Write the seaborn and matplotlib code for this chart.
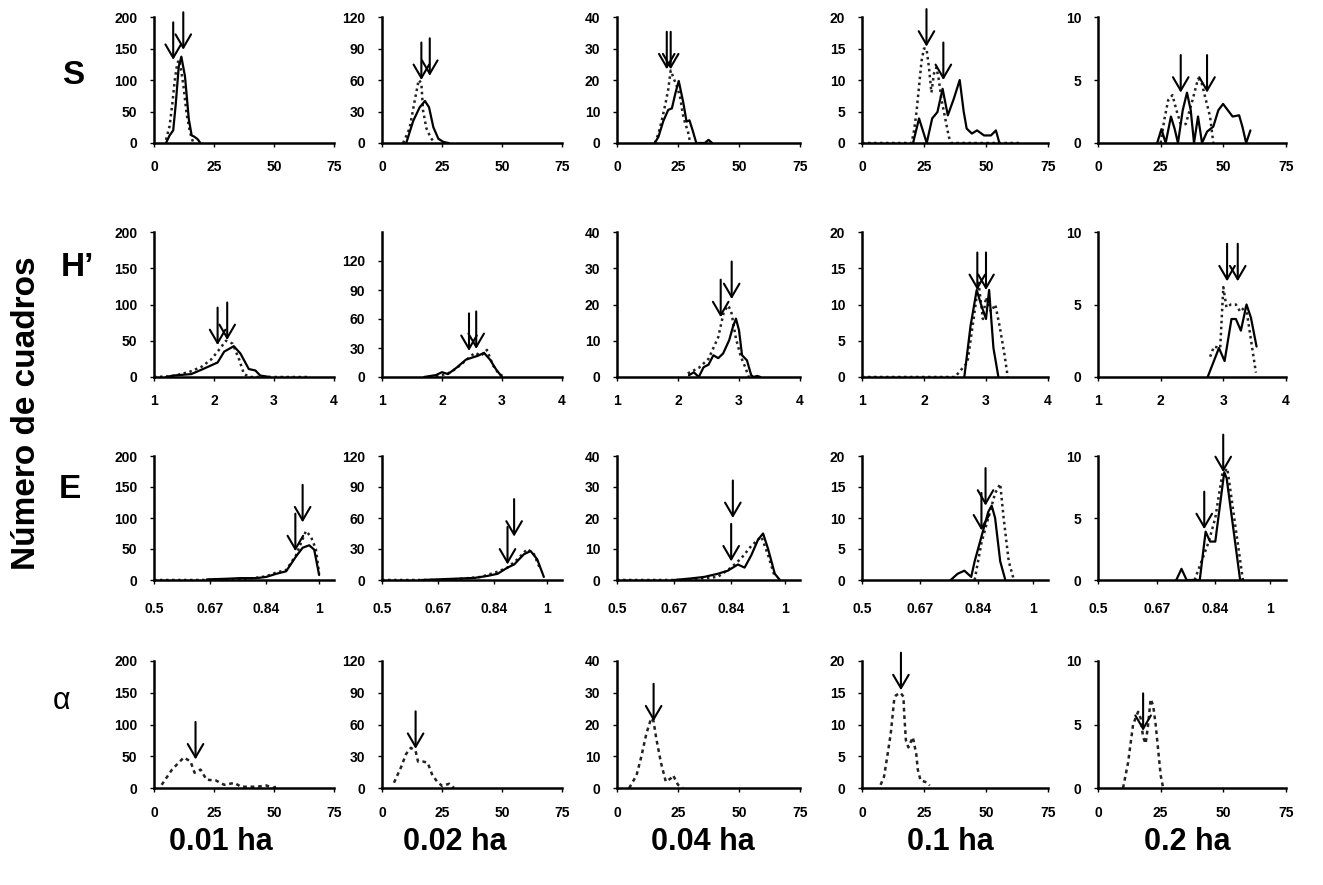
import numpy as np
import pandas as pd
import matplotlib
matplotlib.use("Agg")
import matplotlib.pyplot as plt
import seaborn as sns

# ---------------- DATA ----------------
ROW_NAMES = ["S", "H\u2019", "E", "\u03b1"]
COL_NAMES = ["0.01 ha", "0.02 ha", "0.04 ha", "0.1 ha", "0.2 ha"]
Y_LABEL = "Número de cuadros"

YMAX = [200, 120, 40, 20, 10]
YSTEP = [50, 30, 10, 5, 5]
XTICKS_ROW = [[0, 25, 50, 75], [1, 2, 3, 4], [0.5, 0.67, 0.84, 1], [0, 25, 50, 75]]
XTICKLABELS_ROW = [["0", "25", "50", "75"], ["1", "2", "3", "4"],
                   ["0.5", "0.67", "0.84", "1"], ["0", "25", "50", "75"]]
XLIM_ROW = [(0, 75), (1, 4), (0.5, 1.045), (0, 75)]

# Row S
S1_SX = [5, 6.5, 8, 9, 10.3, 11.4, 12.9, 14.5, 15.7, 16.8, 18.2, 19.3]
S1_SY = [0, 12, 20, 59, 121, 137, 106, 38, 12, 10, 6, 0]
S1_DX = [5, 6.5, 7.6, 8.6, 9.7, 10.6, 12.2, 13.6, 15, 16.3]
S1_DY = [5, 27, 61, 98, 127, 132, 93, 46, 17, 1]
S1_AX = [8, 12.2]
S1_AT = [132, 148]

S2_SX = [10.1, 13, 15.7, 17.9, 19.6, 21.4, 23.5, 25.6, 27.7]
S2_SY = [0, 21, 34, 40, 34, 15, 4, 1, 0]
S2_DX = [8.8, 11.5, 13.6, 15.3, 16.4, 17.1, 18.5, 20.3, 22]
S2_DY = [0, 14, 40, 60, 57, 31, 14, 5, 0]
S2_AX = [16.4, 19.9]
S2_AT = [60, 64]

S3_SX = [15.5, 17, 19, 21, 22.5, 24, 25.3, 27.2, 28.5, 29.7, 31, 32.5, 34, 36, 37.5, 39]
S3_SY = [0, 2, 7, 10.5, 11, 16, 19.7, 12.7, 6.8, 7.2, 4, 0, 0, 0, 1, 0]
S3_DX = [15.5, 17, 18.3, 20, 21, 22, 23, 24, 25, 26, 27, 28, 29, 30]
S3_DY = [0, 3, 7, 13, 17, 23, 21, 19, 17, 14, 9, 6, 4, 0]
S3_AX = [20.4, 22]
S3_AT = [23.4, 23.4]

S4_SX = [20.6, 23, 26.1, 28.3, 30.4, 32.5, 34.6, 37, 39.4, 41, 42.2, 44.3, 46.4, 49.2, 52, 54, 55.4]
S4_SY = [0, 3.9, 0, 3.9, 4.9, 8.6, 4.4, 7, 10, 5, 2.3, 1.5, 2, 1.2, 1.2, 2, 0]
S4_DX = [0, 4, 8, 12, 16, 20, 21, 22, 23, 24, 25, 26, 27, 28, 29, 30, 31, 32, 33, 34, 35, 36,
         40, 45, 50, 55, 60, 64]
S4_DY = [0, 0, 0, 0, 0, 0, 2, 5, 9, 13, 15, 15, 12, 8, 11, 12, 10, 7, 5, 3, 1, 0,
         0, 0, 0, 0, 0, 0]
S4_AX = [26, 32.8]
S4_AT = [15.3, 10]

S5_SX = [23.6, 25.3, 27, 29.1, 30.6, 31.9, 33.8, 35.5, 37, 38.3, 39.9, 41.5, 43.5, 46, 48,
         49.9, 51.8, 53.7, 56.3, 57.6, 59.1, 60.8]
S5_SY = [0, 1.1, 0, 2.1, 1.1, 0, 2.6, 4.0, 2.6, 0, 2.1, 0, 0.9, 1.3, 2.6, 3.1, 2.6, 2.1,
         2.2, 1.3, 0, 1.0]
S5_DX = [25, 26.5, 28, 29.7, 31.3, 33, 35, 37.7, 39.9, 41.2, 42.8, 44.7, 46]
S5_DY = [0, 1.9, 3.4, 3.8, 2.6, 1.5, 1.5, 3.4, 5.1, 4.9, 3.6, 2.1, 0]
S5_AX = [33, 43.5]
S5_AT = [4.0, 4.0]

# Row H'
H1_SX = [1.2, 1.32, 1.62, 1.79, 2.06, 2.17, 2.33, 2.44, 2.58, 2.69, 2.77, 2.93]
H1_SY = [0, 2, 4, 10, 20, 35, 42.5, 32.5, 11, 9, 2, 0]
H1_DX = [1.0, 1.3, 1.59, 1.79, 1.95, 2.06, 2.2, 2.31, 2.42, 2.5, 2.6, 2.8, 3.0, 3.2, 3.4, 3.58]
H1_DY = [0, 1, 7, 14, 24, 35, 50, 46, 24, 4, 0, 0, 0, 0, 0, 0]
H1_AX = [2.06, 2.22]
H1_AT = [44, 51]

H2_SX = [1.7, 1.9, 2.0, 2.1, 2.25, 2.4, 2.5, 2.6, 2.7, 2.8, 2.9, 3.0]
H2_SY = [0, 2, 5, 3, 10, 18, 20, 22, 25, 18, 8, 0]
H2_DX = [1.8, 2.0, 2.15, 2.3, 2.45, 2.55, 2.65, 2.75, 2.85, 2.95, 3.05]
H2_DY = [0, 2, 5, 12, 20, 25, 22, 28, 12, 3, 0]
H2_AX = [2.45, 2.57]
H2_AT = [27, 29]

H3_SX = [2.18, 2.26, 2.34, 2.42, 2.5, 2.58, 2.66, 2.74, 2.84, 2.9, 2.95, 3.0, 3.05, 3.13,
         3.2, 3.24, 3.3, 3.35]
H3_SY = [0.5, 1.3, 0, 2.7, 3.4, 6, 5.2, 6.5, 10.2, 13.8, 16.1, 12.9, 6, 4.6, 0.5, 0, 0.3, 0]
H3_DX = [2.16, 2.34, 2.5, 2.66, 2.75, 2.82, 2.87, 2.95, 3.03, 3.1, 3.16]
H3_DY = [1, 2.5, 5, 11, 17.9, 19.7, 18.3, 10.6, 5.6, 2.8, 0]
H3_AX = [2.7, 2.88]
H3_AT = [16.5, 21.5]

H4_SX = [2.65, 2.75, 2.85, 2.92, 3.0, 3.05, 3.12, 3.2]
H4_SY = [0, 7, 12, 10, 8, 12, 4, 0]
H4_DX = [1.0, 1.5, 2.0, 2.5, 2.7, 2.8, 2.88, 2.95, 3.0, 3.08, 3.15, 3.22, 3.3, 3.35]
H4_DY = [0, 0, 0, 0, 2, 8, 13, 8, 11, 9, 10, 7, 3, 0]
H4_AX = [2.86, 3.0]
H4_AT = [12, 12]

H5_SX = [2.75, 2.93, 3.02, 3.13, 3.2, 3.28, 3.37, 3.44, 3.53]
H5_SY = [0, 2.0, 1.1, 4.0, 4.0, 3.2, 5.0, 4.1, 2.1]
H5_DX = [2.79, 2.85, 2.95, 3.0, 3.05, 3.12, 3.2, 3.27, 3.36, 3.45, 3.52]
H5_DY = [1.4, 2.1, 2.0, 6.2, 4.8, 5.0, 5.0, 4.5, 4.9, 2.3, 0.3]
H5_AX = [3.06, 3.23]
H5_AT = [6.6, 6.6]

# Row E
E1_SX = [0.66, 0.72, 0.76, 0.81, 0.84, 0.87, 0.9, 0.93, 0.95, 0.97, 0.985, 1.0]
E1_SY = [1, 2, 3, 3, 5, 10, 14, 38, 52, 56, 49, 8]
E1_DX = [0.5, 0.55, 0.6, 0.65, 0.7, 0.75, 0.8, 0.84, 0.87, 0.9, 0.93, 0.96, 0.975, 0.99, 1.0]
E1_DY = [0, 0, 0, 0, 0, 1, 3, 6, 12, 16, 40, 79, 70, 50, 10]
E1_AX = [0.928, 0.95]
E1_AT = [46.5, 93]

E2_SX = [0.62, 0.7, 0.78, 0.82, 0.85, 0.88, 0.9, 0.93, 0.95, 0.97, 0.99]
E2_SY = [0, 1, 2, 4, 6, 12, 15, 25, 28, 20, 3]
E2_DX = [0.5, 0.6, 0.7, 0.8, 0.85, 0.88, 0.91, 0.94, 0.96, 0.98]
E2_DY = [0, 0, 0, 3, 8, 12, 20, 30, 25, 10]
E2_AX = [0.88, 0.9]
E2_AT = [15, 42]

E3_SX = [0.67, 0.72, 0.76, 0.8, 0.83, 0.86, 0.88, 0.9, 0.92, 0.935, 0.95, 0.97, 0.985]
E3_SY = [0, 0.5, 1, 2, 3, 5, 4, 8, 13, 15, 10, 2, 0]
E3_DX = [0.5, 0.6, 0.7, 0.8, 0.84, 0.87, 0.9, 0.93, 0.95, 0.97]
E3_DY = [0, 0, 0, 1, 4, 7, 11, 14, 8, 1]
E3_AX = [0.84, 0.845]
E3_AT = [6, 20]

E4_SX = [0.76, 0.78, 0.8, 0.82, 0.83, 0.845, 0.86, 0.87, 0.88, 0.89, 0.905, 0.92]
E4_SY = [0, 1, 1.5, 0.5, 3, 6, 9, 11, 12, 10, 3, 0]
E4_DX = [0.83, 0.85, 0.87, 0.89, 0.905, 0.915, 0.93, 0.945]
E4_DY = [0, 6, 10, 14, 15.5, 10, 3, 0]
E4_AX = [0.85, 0.862]
E4_AT = [8, 12]

E5_SX = [0.727, 0.742, 0.757, 0.795, 0.812, 0.825, 0.84, 0.866, 0.873, 0.912]
E5_SY = [0, 0.9, 0, 0, 3.9, 3.1, 3.1, 8.7, 8.2, 0]
E5_DX = [0.78, 0.8, 0.82, 0.84, 0.86, 0.875, 0.89, 0.905, 0.92]
E5_DY = [0, 1.5, 3, 5, 8.5, 9, 6, 3, 0]
E5_AX = [0.808, 0.863]
E5_AT = [4.1, 8.7]

# Row alpha (only one series)
A1_DX = [3.2, 7.5, 12.4, 15.2, 16.9, 19.4, 21.9, 25.7, 29.3, 33.5, 36.3, 39.8, 43, 46.8, 49.6, 51.8]
A1_DY = [5, 29, 48, 42, 24, 29, 13, 12, 5, 8, 2, 2, 2, 4, 0, 4]
A1_AX = [17.3]
A1_AT = [45]

A2_DX = [5, 8, 10, 12, 14, 15, 17, 19, 21, 23, 25, 28, 30]
A2_DY = [5, 20, 32, 38, 35, 25, 25, 24, 12, 6, 2, 4, 0]
A2_AX = [14]
A2_AT = [37]

A3_DX = [5, 8, 10, 12, 14, 15, 16, 18, 20, 22, 23, 25, 27]
A3_DY = [0, 4, 10, 17, 22, 21, 16, 8, 2, 3, 4, 1, 0]
A3_AX = [15]
A3_AT = [21]

A4_DX = [7.5, 8.9, 10.2, 11.6, 12.3, 13, 13.7, 15.5, 16.7, 17, 17.7, 18.7, 20.5, 21.9, 22.5,
         23.6, 26, 27.3]
A4_DY = [0.5, 1.8, 5, 8.6, 11.3, 14, 14.6, 15, 14.4, 11.8, 7.5, 6.4, 8, 5.3, 2.9, 1.2, 0.9, 0.4]
A4_AX = [15.7]
A4_AT = [15.4]

A5_DX = [10, 12, 14, 16, 17, 18, 19, 20, 21, 22, 23, 24, 25, 26]
A5_DY = [0, 2, 5, 6, 5.5, 4, 3.5, 5, 7, 6.5, 5, 3, 1, 0]
A5_AX = [18]
A5_AT = [4.5]

PANELS = [
    [(S1_SX, S1_SY, S1_DX, S1_DY, S1_AX, S1_AT), (S2_SX, S2_SY, S2_DX, S2_DY, S2_AX, S2_AT),
     (S3_SX, S3_SY, S3_DX, S3_DY, S3_AX, S3_AT), (S4_SX, S4_SY, S4_DX, S4_DY, S4_AX, S4_AT),
     (S5_SX, S5_SY, S5_DX, S5_DY, S5_AX, S5_AT)],
    [(H1_SX, H1_SY, H1_DX, H1_DY, H1_AX, H1_AT), (H2_SX, H2_SY, H2_DX, H2_DY, H2_AX, H2_AT),
     (H3_SX, H3_SY, H3_DX, H3_DY, H3_AX, H3_AT), (H4_SX, H4_SY, H4_DX, H4_DY, H4_AX, H4_AT),
     (H5_SX, H5_SY, H5_DX, H5_DY, H5_AX, H5_AT)],
    [(E1_SX, E1_SY, E1_DX, E1_DY, E1_AX, E1_AT), (E2_SX, E2_SY, E2_DX, E2_DY, E2_AX, E2_AT),
     (E3_SX, E3_SY, E3_DX, E3_DY, E3_AX, E3_AT), (E4_SX, E4_SY, E4_DX, E4_DY, E4_AX, E4_AT),
     (E5_SX, E5_SY, E5_DX, E5_DY, E5_AX, E5_AT)],
    [(None, None, A1_DX, A1_DY, A1_AX, A1_AT), (None, None, A2_DX, A2_DY, A2_AX, A2_AT),
     (None, None, A3_DX, A3_DY, A3_AX, A3_AT), (None, None, A4_DX, A4_DY, A4_AX, A4_AT),
     (None, None, A5_DX, A5_DY, A5_AX, A5_AT)],
]

# ---------------- LAYOUT (pixels) ----------------
W, H = 1323, 885
COL_LEFT = [154, 382, 617, 862, 1098]
COL_W = [180, 180, 183, 186, 188]
ROW_TOP = [17, 232, 456, 661]
ROW_BOT = [143, 377, 580, 788]
XPAD_ROW = [9, 9, 13, 10]

sns.set_theme(style="white")
plt.rcParams['font.family'] = ['Liberation Sans', 'DejaVu Sans']
plt.rcParams['font.weight'] = 'bold'

fig = plt.figure(figsize=(W / 100, H / 100), dpi=100)
fig.patch.set_facecolor("white")

for r in range(4):
    for c in range(5):
        left = COL_LEFT[c] / W
        bottom = 1 - ROW_BOT[r] / H
        width = COL_W[c] / W
        height = (ROW_BOT[r] - ROW_TOP[r]) / H
        ax = fig.add_axes([left, bottom, width, height])
        sx, sy, dx, dy, axx, att = PANELS[r][c]
        if dx is not None:
            df_d = pd.DataFrame({"x": dx, "y": dy})
            ls = (0, (1, 1.4)) if r < 3 else (0, (1.5, 1.5))
            sns.lineplot(data=df_d, x="x", y="y", ax=ax, color="#222222", lw=1.8,
                         linestyle=ls, estimator=None, sort=False, legend=False)
        if sx is not None:
            df_s = pd.DataFrame({"x": sx, "y": sy})
            sns.lineplot(data=df_s, x="x", y="y", ax=ax, color="black", lw=1.6,
                         estimator=None, sort=False, legend=False)
        for xa, ta in zip(axx, att):
            ax.annotate("", xy=(xa, ta), xytext=(0, 27), textcoords="offset points",
                        annotation_clip=False,
                        arrowprops=dict(arrowstyle="->,head_length=0.6,head_width=0.35",
                                        lw=1.5, color="black", shrinkA=0, shrinkB=0,
                                        mutation_scale=16))
        ymax = YMAX[c]
        if r == 1 and c == 1:
            ymax = 150
        ax.set_xlim(*XLIM_ROW[r])
        ax.set_ylim(0, ymax)
        ax.set_xticks(XTICKS_ROW[r])
        ax.set_xticklabels(XTICKLABELS_ROW[r])
        yt = list(range(0, YMAX[c] + 1, YSTEP[c]))
        ax.set_yticks(yt)
        ax.set_yticklabels([str(v) for v in yt])
        ax.set_xlabel("")
        ax.set_ylabel("")
        for s in ["top", "right"]:
            ax.spines[s].set_visible(False)
        for s in ["left", "bottom"]:
            ax.spines[s].set_linewidth(1.8)
            ax.spines[s].set_color("black")
        ax.tick_params(axis="x", direction="out", length=3, width=1, pad=XPAD_ROW[r],
                       labelsize=10, colors="black", bottom=True)
        ax.tick_params(axis="y", direction="out", length=3, width=1, pad=9,
                       labelsize=10, colors="black", left=True)
        for lab in ax.get_xticklabels() + ax.get_yticklabels():
            lab.set_fontweight("bold")
        ax.set_facecolor("white")
        ax.grid(False)

# Row labels
ROW_LABEL_POS = [(73, 75), (77, 267), (70, 490), (62, 701)]
for name, (px, py) in zip(ROW_NAMES, ROW_LABEL_POS):
    fw = "normal" if name == "\u03b1" else "bold"
    fs = 22 if name == "\u03b1" else 24
    fig.text(px / W, 1 - py / H, name, ha="center", va="center", fontsize=fs,
             fontweight=fw, color="black")

# Column titles
COL_TITLE_X = [221, 455, 703, 950, 1187]
for name, px in zip(COL_NAMES, COL_TITLE_X):
    fig.text(px / W, 1 - 842 / H, name, ha="center", va="center", fontsize=22,
             fontweight="bold", color="black")

fig.text(27 / W, 1 - 413 / H, Y_LABEL, rotation=90, ha="center", va="center",
         fontsize=24, fontweight="bold", color="black")

fig.savefig("out.png", dpi=100, facecolor="white")
